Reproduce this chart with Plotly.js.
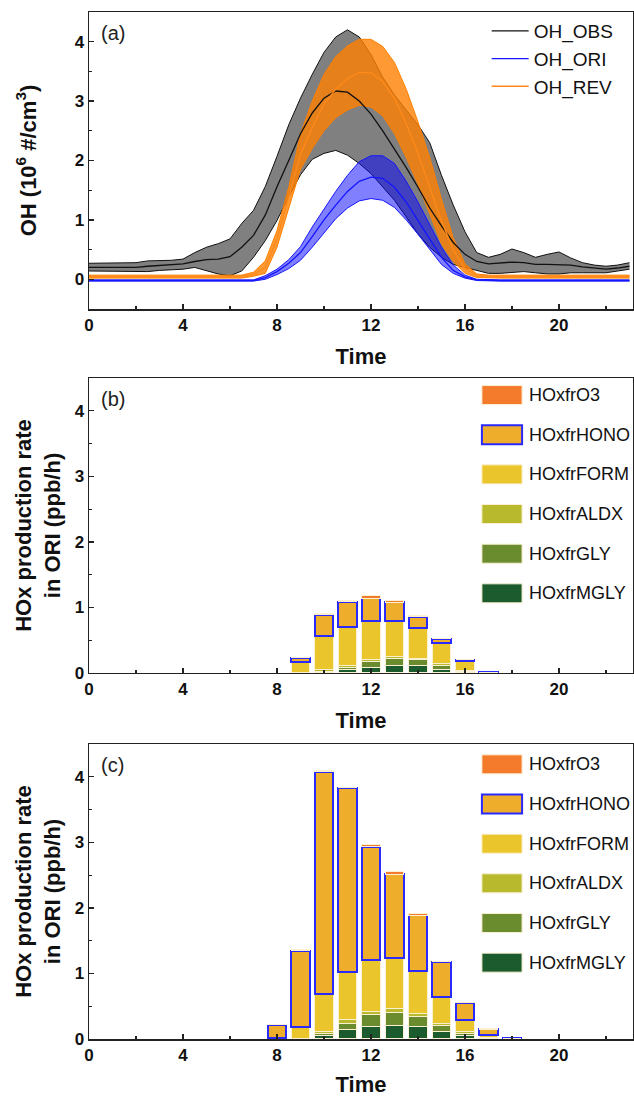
<!DOCTYPE html>
<html>
<head>
<meta charset="utf-8">
<script src="https://cdn.plot.ly/plotly-3.0.1.min.js"></script>
<style>html,body{margin:0;padding:0;background:#fff;}#chart{width:634px;height:1097px;}</style>
</head>
<body>
<div id="chart"></div>
<script>
// ---------- Panel (a): OH time series (hour of day) ----------
const hours = [0,0.5,1,1.5,2,2.5,3,3.5,4,4.5,5,5.5,6,6.5,7,7.5,8,8.5,9,9.5,10,10.5,11,11.5,12,12.5,13,13.5,14,14.5,15,15.5,16,16.5,17,17.5,18,18.5,19,19.5,20,20.5,21,21.5,22,22.5,23];

const obsLow  = [0.14,0.14,0.13,0.13,0.14,0.13,0.15,0.16,0.17,0.2,0.14,0.09,0.06,0.14,0.37,0.65,0.99,1.39,1.76,2.02,2.12,2.17,2.09,1.95,1.78,1.56,1.33,1.05,0.76,0.54,0.37,0.25,0.2,0.14,0.1,0.1,0.12,0.13,0.11,0.09,0.09,0.11,0.11,0.11,0.11,0.14,0.17];
const obsMean = [0.2,0.2,0.2,0.2,0.2,0.22,0.23,0.24,0.26,0.3,0.33,0.34,0.38,0.54,0.74,1.08,1.56,2.0,2.45,2.8,3.05,3.17,3.15,3.0,2.78,2.5,2.2,1.88,1.55,1.2,0.9,0.62,0.42,0.3,0.26,0.27,0.29,0.28,0.25,0.25,0.25,0.24,0.21,0.19,0.17,0.19,0.22];
const obsHigh = [0.27,0.27,0.27,0.27,0.28,0.31,0.31,0.32,0.34,0.45,0.54,0.6,0.68,0.94,1.16,1.56,2.07,2.6,3.05,3.45,3.82,4.08,4.2,4.08,3.78,3.4,3.1,2.85,2.6,2.3,1.75,1.25,0.8,0.45,0.37,0.42,0.51,0.45,0.37,0.42,0.46,0.36,0.28,0.24,0.22,0.24,0.28];

const oriLow  = [-0.03,-0.03,-0.03,-0.03,-0.03,-0.03,-0.03,-0.03,-0.03,-0.03,-0.03,-0.03,-0.03,-0.03,-0.03,0.0,0.08,0.18,0.32,0.54,0.78,1.02,1.2,1.32,1.36,1.33,1.21,1.0,0.76,0.5,0.25,0.1,0.02,-0.02,-0.03,-0.03,-0.03,-0.03,-0.03,-0.03,-0.03,-0.03,-0.03,-0.03,-0.03,-0.03,-0.03];
const oriMean = [-0.02,-0.02,-0.02,-0.02,-0.02,-0.02,-0.02,-0.02,-0.02,-0.02,-0.02,-0.02,-0.02,-0.02,-0.02,0.03,0.13,0.27,0.45,0.72,1.0,1.25,1.48,1.65,1.72,1.7,1.55,1.3,0.99,0.68,0.37,0.15,0.04,-0.01,-0.02,-0.02,-0.02,-0.02,-0.02,-0.02,-0.02,-0.02,-0.02,-0.02,-0.02,-0.02,-0.02];
const oriHigh = [-0.01,-0.01,-0.01,-0.01,-0.01,-0.01,-0.01,-0.01,-0.01,-0.01,-0.01,-0.01,-0.01,-0.01,-0.01,0.06,0.17,0.33,0.55,0.88,1.18,1.48,1.75,1.98,2.08,2.08,1.95,1.65,1.3,0.92,0.54,0.24,0.07,0.0,-0.01,-0.01,-0.01,-0.01,-0.01,-0.01,-0.01,-0.01,-0.01,-0.01,-0.01,-0.01,-0.01];

const revLow  = [0.02,0.02,0.02,0.02,0.02,0.02,0.02,0.02,0.02,0.02,0.02,0.02,0.02,0.02,0.05,0.1,0.54,1.2,1.85,2.2,2.5,2.72,2.85,2.93,2.9,2.75,2.45,2.05,1.6,1.1,0.6,0.3,0.1,0.03,0.02,0.02,0.02,0.02,0.02,0.02,0.02,0.02,0.02,0.02,0.02,0.02,0.02];
const revMean = [0.05,0.05,0.05,0.05,0.05,0.05,0.05,0.05,0.05,0.05,0.05,0.05,0.05,0.05,0.08,0.2,0.68,1.37,2.1,2.55,2.95,3.2,3.38,3.48,3.48,3.33,3.05,2.62,2.12,1.55,0.98,0.5,0.18,0.07,0.05,0.05,0.05,0.05,0.05,0.05,0.05,0.05,0.05,0.05,0.05,0.05,0.05];
const revHigh = [0.07,0.07,0.07,0.07,0.07,0.07,0.07,0.07,0.07,0.07,0.07,0.07,0.07,0.07,0.12,0.31,0.82,1.55,2.45,3.0,3.45,3.75,3.93,4.04,4.04,3.92,3.65,3.2,2.65,2.05,1.35,0.7,0.26,0.09,0.07,0.07,0.07,0.07,0.07,0.07,0.07,0.07,0.07,0.07,0.07,0.07,0.07];

// ---------- Panel (b): HOx production rate, ORI ----------
const hoursB = [9,10,11,12,13,14,15,16,17];
const mglyB = [0.005,0.02,0.05,0.09,0.11,0.11,0.06,0.02,0];
const glyB  = [0.003,0.01,0.04,0.09,0.11,0.09,0.06,0.01,0];
const aldxB = [0.005,0.02,0.03,0.03,0.03,0.02,0.02,0.015,0];
const formB = [0.15,0.52,0.58,0.58,0.55,0.46,0.31,0.145,0.002];
const honoB = [0.07,0.32,0.39,0.35,0.28,0.18,0.07,0.01,0.012];
const o3B   = [0.01,0.01,0.02,0.04,0.03,0.01,0.01,0.0,0];

// ---------- Panel (c): HOx production rate ----------
const hoursC = [8,9,10,11,12,13,14,15,16,17,18];
const mglyC = [0.01,0.005,0.05,0.14,0.19,0.21,0.19,0.11,0.05,0.01,0];
const glyC  = [0.003,0.005,0.04,0.1,0.18,0.19,0.15,0.09,0.04,0.005,0];
const aldxC = [0.002,0.005,0.03,0.05,0.05,0.07,0.05,0.03,0.02,0.005,0];
const formC = [0.005,0.165,0.57,0.73,0.79,0.76,0.64,0.41,0.18,0.04,0.002];
const honoC = [0.2,1.17,3.39,2.81,1.72,1.28,0.86,0.54,0.26,0.09,0.012];
const o3C   = [0.005,0.01,0.01,0.01,0.04,0.05,0.03,0.01,0.01,0.01,0];

const xTicks = [0,4,8,12,16,20];
const yTicks = [0,1,2,3,4];
const seriesNames = ['HOxfrO3','HOxfrHONO','HOxfrFORM','HOxfrALDX','HOxfrGLY','HOxfrMGLY'];
const seriesColors = ['#f47b2b','#eeae2c','#eac52c','#b8b92c','#6b8c2e','#1c5b2e'];

// ---------- build traces ----------
const FONT = 'Liberation Sans, Arial, sans-serif';
const traces = [];
function band(lo, hi, lineColor, fillColor) {
  traces.push({x: hours, y: lo, type:'scatter', mode:'lines', line:{color:lineColor, width:1}, showlegend:false, hoverinfo:'skip', xaxis:'x', yaxis:'y'});
  traces.push({x: hours, y: hi, type:'scatter', mode:'lines', line:{color:lineColor, width:1}, fill:'tonexty', fillcolor:fillColor, showlegend:false, hoverinfo:'skip', xaxis:'x', yaxis:'y'});
}
band(obsLow, obsHigh, '#111111', 'rgb(128,128,128)');
band(oriLow, oriHigh, '#1515ff', 'rgba(0,0,255,0.5)');
band(revLow, revHigh, '#ff7f00', 'rgba(255,128,0,0.8)');
traces.push({x: hours, y: obsMean, type:'scatter', mode:'lines', name:'OH_OBS', line:{color:'#111111', width:1.3}, xaxis:'x', yaxis:'y'});
traces.push({x: hours, y: oriMean, type:'scatter', mode:'lines', name:'OH_ORI', line:{color:'#1515ff', width:1.3}, xaxis:'x', yaxis:'y'});
traces.push({x: hours, y: revMean, type:'scatter', mode:'lines', name:'OH_REV', line:{color:'#ff8a1a', width:1.3}, xaxis:'x', yaxis:'y'});

function bars(hx, comps, xa, ya) {
  // stacking order bottom -> top
  const order = [5,4,3,2,1,0];
  order.forEach(i => {
    const isHono = (i === 1);
    traces.push({
      x: hx, y: comps[i], type:'bar', width:0.78, name: seriesNames[i], showlegend:false,
      marker:{color: seriesColors[i], line:{color: isHono ? '#2a2aff' : '#fbf0d2', width: isHono ? 2 : 1}},
      xaxis: xa, yaxis: ya, hoverinfo:'skip'
    });
  });
}
bars(hoursB, [o3B, honoB, formB, aldxB, glyB, mglyB], 'x2', 'y2');
bars(hoursC, [o3C, honoC, formC, aldxC, glyC, mglyC], 'x3', 'y3');

// ---------- axes ----------
function xAxis(anchor) {
  return {
    anchor: anchor, domain:[0,1], range:[0,23.15], tickvals: xTicks, ticktext: xTicks.map(String),
    showline:true, mirror:true, linecolor:'#222', linewidth:1.5,
    ticks:'inside', ticklen:5, tickwidth:1.3, tickcolor:'#222',
    minor:{ticks:'inside', ticklen:3, tickwidth:1.2, tickcolor:'#222', dtick:2, tick0:0, showgrid:false},
    showgrid:false, zeroline:false,
    tickfont:{family:FONT, size:17, weight:'bold', color:'#111'},
    title:{text:'<b>Time</b>', font:{family:FONT, size:22, color:'#111'}, standoff:14}
  };
}
function yAxis(domain, range, title, standoff) {
  return {
    domain: domain, range: range, tickvals: yTicks, ticktext: yTicks.map(String),
    showline:true, mirror:true, linecolor:'#222', linewidth:1.5,
    ticks:'inside', ticklen:5, tickwidth:1.3, tickcolor:'#222',
    minor:{ticks:'inside', ticklen:3, tickwidth:1.2, tickcolor:'#222', dtick:0.5, tick0:0, showgrid:false},
    showgrid:false, zeroline:false,
    tickfont:{family:FONT, size:17, weight:'bold', color:'#111'},
    title:{text: title, font:{family:FONT, size:22, color:'#111'}, standoff: standoff}
  };
}

// ---------- custom legends for (b) and (c) ----------
const shapes = [];
const annotations = [];
function barLegend(xa, ya, firstY, stepY) {
  seriesNames.forEach((nm, i) => {
    const yc = firstY - i * stepY;
    const isHono = (i === 1);
    shapes.push({type:'rect', xref:xa, yref:ya, x0:16.72, x1:18.43, y0:yc - 0.145, y1:yc + 0.145,
      fillcolor: seriesColors[i], line:{color: isHono ? '#2a2aff' : '#fbf0d2', width: isHono ? 2 : 1}});
    annotations.push({xref:xa, yref:ya, x:18.62, y:yc, text:nm, showarrow:false, xanchor:'left', yanchor:'middle',
      font:{family:FONT, size:18, color:'#111'}});
  });
}
barLegend('x2', 'y2', 4.24, 0.605);
barLegend('x3', 'y3', 4.19, 0.605);

annotations.push({xref:'paper', yref:'paper', x:0.018, y:0.9796, text:'(a)', showarrow:false, xanchor:'left', yanchor:'middle', font:{family:FONT, size:20, color:'#222'}});
annotations.push({xref:'paper', yref:'paper', x:0.018, y:0.6232, text:'(b)', showarrow:false, xanchor:'left', yanchor:'middle', font:{family:FONT, size:20, color:'#222'}});
annotations.push({xref:'paper', yref:'paper', x:0.018, y:0.2668, text:'(c)', showarrow:false, xanchor:'left', yanchor:'middle', font:{family:FONT, size:20, color:'#222'}});

const hoxTitle = '<b>HOx production rate<br>in ORI (ppb/h)</b>';
const layout = {
  width:634, height:1097,
  margin:{l:89, r:1, t:12, b:58},
  paper_bgcolor:'#ffffff', plot_bgcolor:'#ffffff',
  barmode:'stack',
  showlegend:true,
  legend:{x:0.731, y:1.0, xanchor:'left', yanchor:'top', bgcolor:'rgba(0,0,0,0)', traceorder:'normal',
          font:{family:FONT, size:19, color:'#111'}, itemwidth:37, tracegroupgap:0},
  xaxis: xAxis('y'),
  yaxis: yAxis([0.7108,1], [-0.5,4.5], '<b>OH (10<sup>6</sup> #/cm<sup>3</sup>)</b>', 32),
  xaxis2: xAxis('y2'),
  yaxis2: yAxis([0.3564,0.6436], [0,4.5], hoxTitle, 8),
  xaxis3: xAxis('y3'),
  yaxis3: yAxis([0,0.2872], [0,4.5], hoxTitle, 8),
  shapes: shapes,
  annotations: annotations
};

Plotly.newPlot('chart', traces, layout, {staticPlot:true, displayModeBar:false});
</script>
</body>
</html>
